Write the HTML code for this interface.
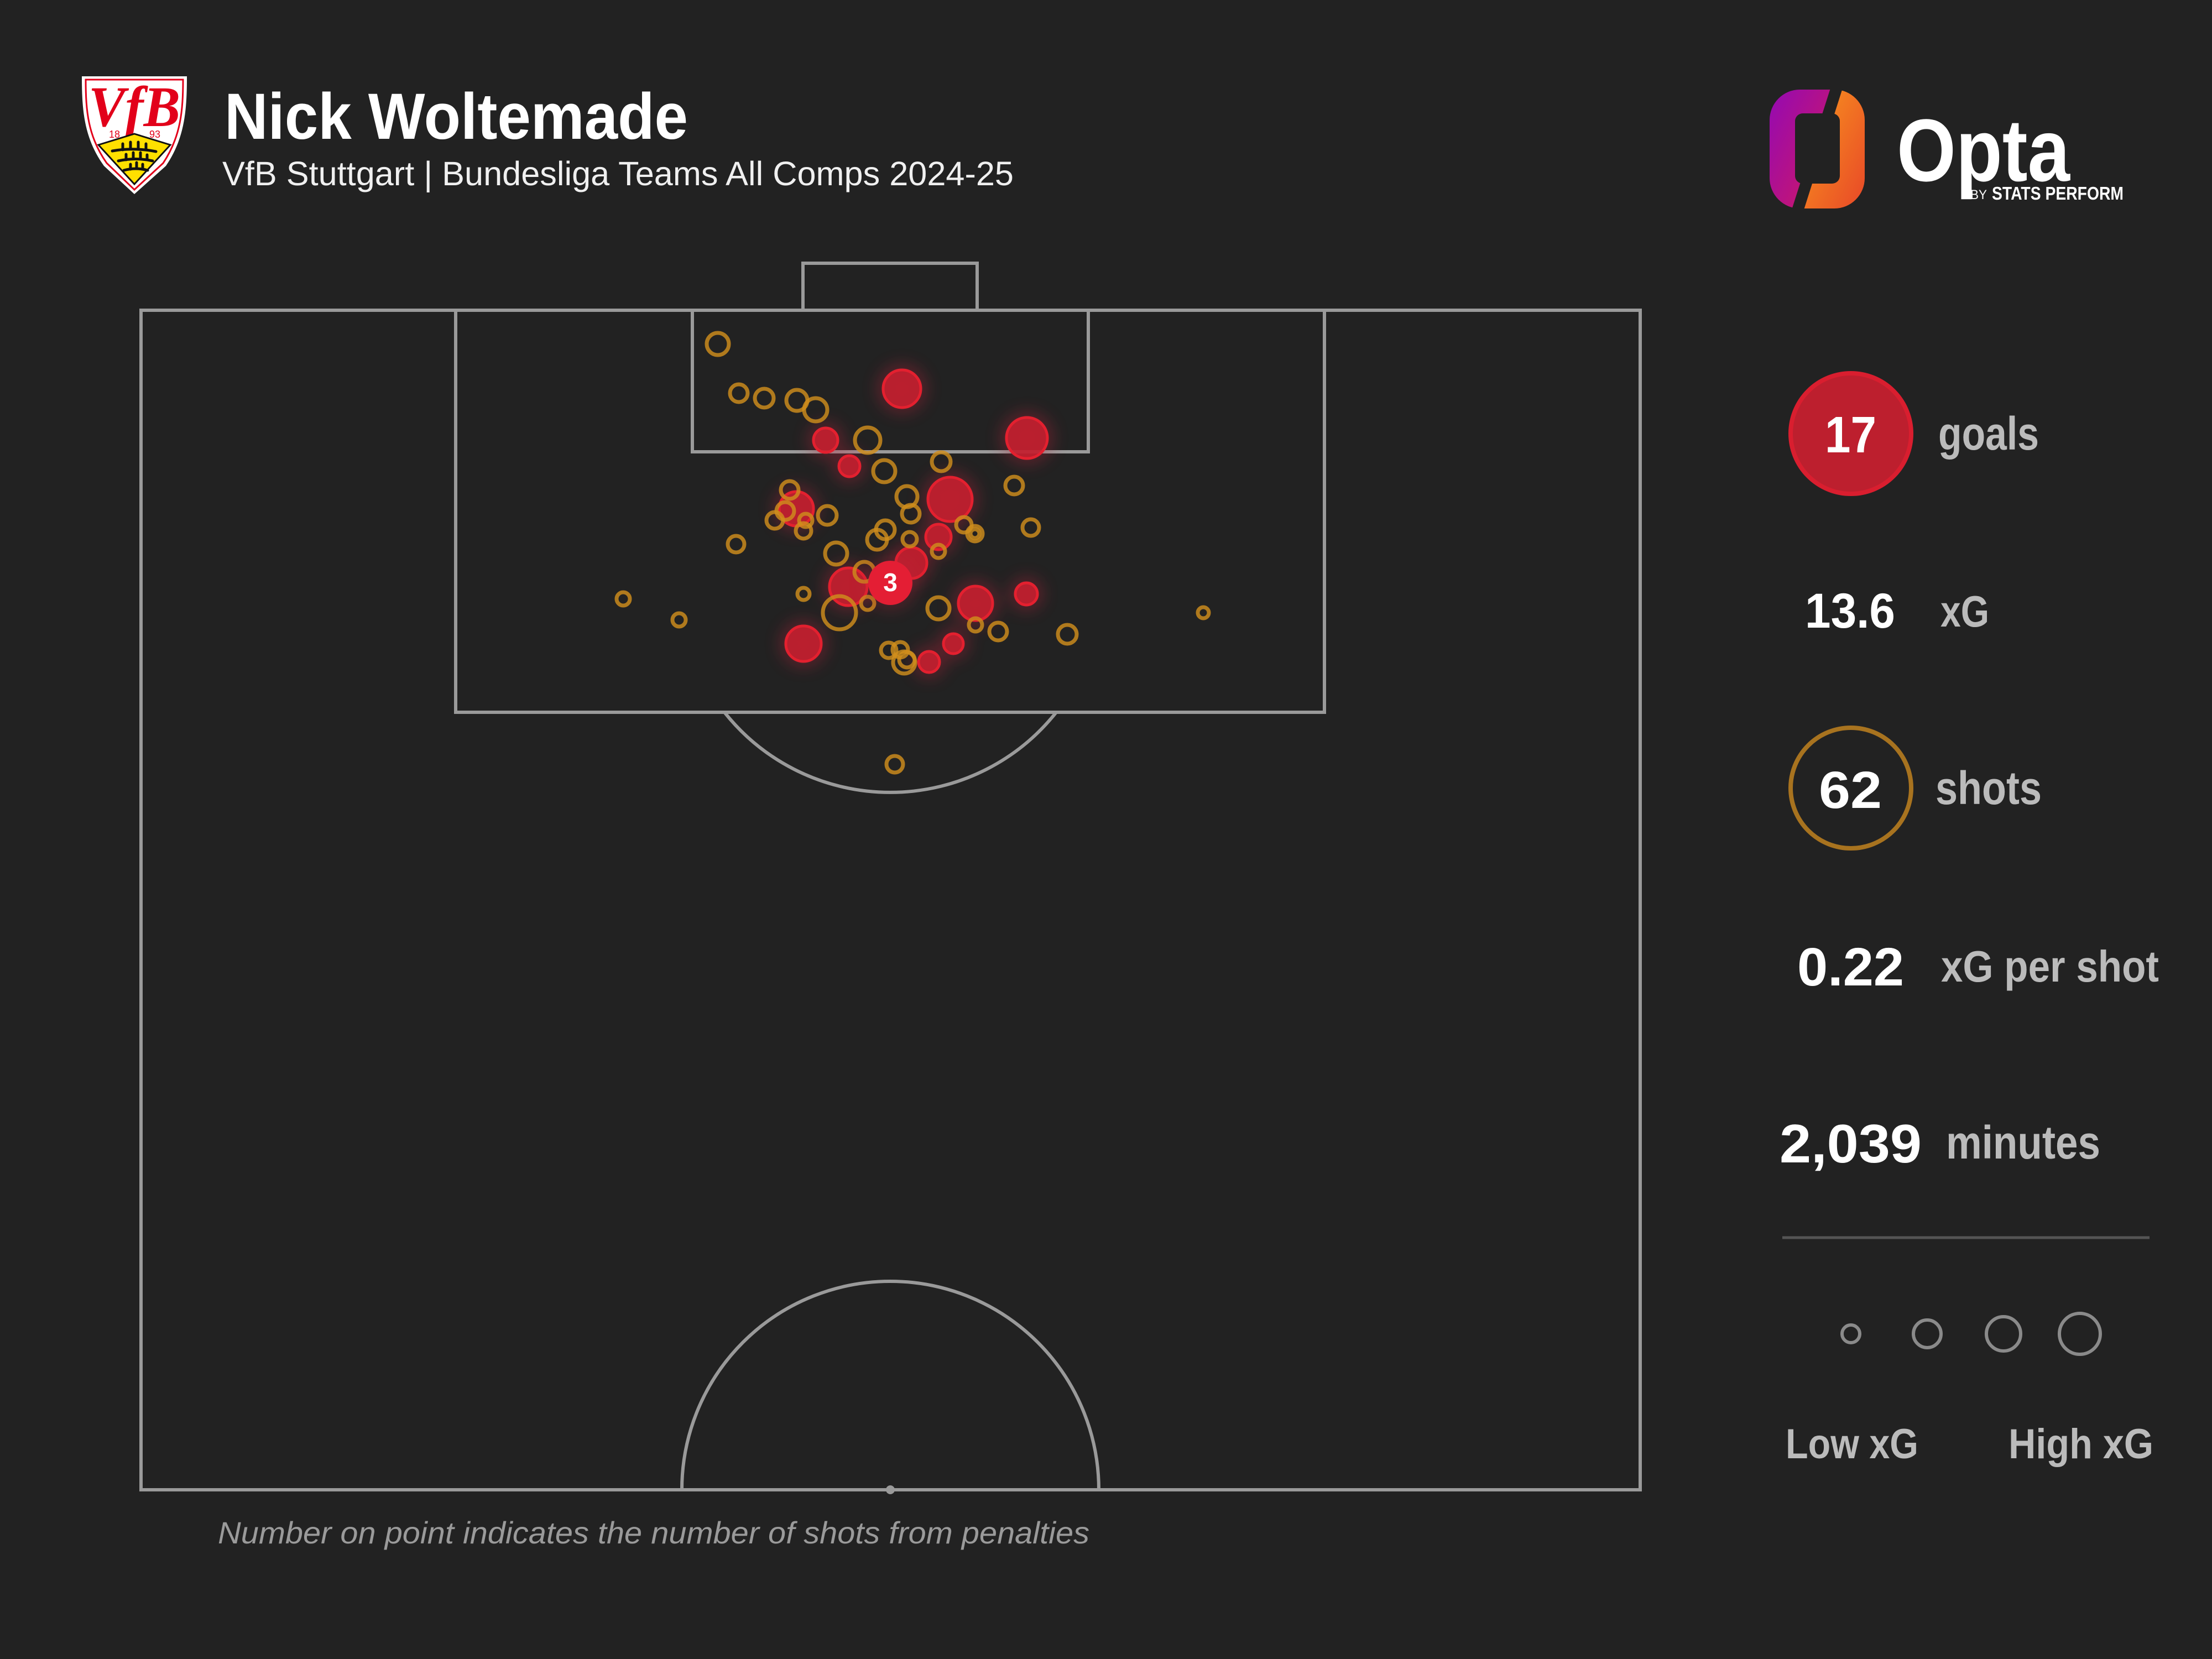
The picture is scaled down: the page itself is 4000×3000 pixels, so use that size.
<!DOCTYPE html>
<html>
<head>
<meta charset="utf-8">
<style>
html,body{margin:0;padding:0;background:#222222;}
svg{display:block;}
</style>
</head>
<body>
<svg width="4000" height="3000" viewBox="0 0 4000 3000" xmlns="http://www.w3.org/2000/svg">
<defs>
  <filter id="glow" x="-100%" y="-100%" width="300%" height="300%">
    <feGaussianBlur stdDeviation="14"/>
  </filter>
  <linearGradient id="gl" x1="0" y1="0.2" x2="1" y2="0.8">
    <stop offset="0" stop-color="#9a0bab"/>
    <stop offset="1" stop-color="#e01c50"/>
  </linearGradient>
  <linearGradient id="gr" x1="0" y1="0.2" x2="1" y2="0.8">
    <stop offset="0" stop-color="#fca81b"/>
    <stop offset="1" stop-color="#ea5027"/>
  </linearGradient>
  <clipPath id="cl"><polygon points="3100,100 3329,100 3227,420 3100,420"/></clipPath>
  <clipPath id="cr"><polygon points="3351,100 3460,100 3460,420 3249,420"/></clipPath>
</defs>
<rect x="0" y="0" width="4000" height="3000" fill="#222222"/>

<!-- Crest -->
<g>
  <path d="M148,138 H338 C338,200 334,250 300,300 L243,351 L188,300 C152,250 148,200 148,138 Z" fill="#ffffff"/>
  <path d="M155,144 H331 C331,200 327,247 295,295 L243,343 L193,295 C159,247 155,200 155,144 Z" fill="none" stroke="#e2001a" stroke-width="3"/>
  <text x="160" y="228" font-family="Liberation Serif, serif" font-weight="bold" font-style="italic" font-size="104" fill="#e2001a" textLength="166" lengthAdjust="spacingAndGlyphs">VfB</text>
  <text x="197" y="249" font-family="Liberation Sans, sans-serif" font-size="18" fill="#e2001a">18</text>
  <text x="270" y="249" font-family="Liberation Sans, sans-serif" font-size="18" fill="#e2001a">93</text>
  <polygon points="243,242 308,262 243,333 178,262" fill="#ffe000" stroke="#111" stroke-width="3"/>
  <g stroke="#111" stroke-width="5" fill="none" stroke-linecap="round">
    <path d="M203,273 Q240,266 282,274"/>
    <path d="M214,291 Q245,284 276,291"/>
    <path d="M224,308 Q246,302 267,308"/>
    <path d="M222,271 V260 M236,269 V257 M250,269 V257 M264,270 V260"/>
    <path d="M228,289 V279 M241,287 V276 M254,287 V276 M266,289 V280"/>
    <path d="M236,306 V297 M247,304 V294 M258,305 V297"/>
  </g>
</g>

<!-- Title -->
<text x="406" y="251" font-family="Liberation Sans, sans-serif" font-weight="bold" font-size="118" fill="#ffffff" textLength="838" lengthAdjust="spacingAndGlyphs">Nick Woltemade</text>
<text x="402" y="335" font-family="Liberation Sans, sans-serif" font-size="61" fill="#f0f0f0" textLength="1431" lengthAdjust="spacingAndGlyphs">VfB Stuttgart | Bundesliga Teams All Comps 2024-25</text>

<!-- Opta logo -->
<g>
  <path fill-rule="evenodd" clip-path="url(#cl)" fill="url(#gl)" d="M3255,162 H3317 A55,55 0 0 1 3372,217 V322 A55,55 0 0 1 3317,377 H3255 A55,55 0 0 1 3200,322 V217 A55,55 0 0 1 3255,162 Z M3260,205 H3313 A14,14 0 0 1 3327,219 V318 A14,14 0 0 1 3313,332 H3260 A14,14 0 0 1 3246,318 V219 A14,14 0 0 1 3260,205 Z"/>
  <path fill-rule="evenodd" clip-path="url(#cr)" fill="url(#gr)" d="M3255,162 H3317 A55,55 0 0 1 3372,217 V322 A55,55 0 0 1 3317,377 H3255 A55,55 0 0 1 3200,322 V217 A55,55 0 0 1 3255,162 Z M3260,205 H3313 A14,14 0 0 1 3327,219 V318 A14,14 0 0 1 3313,332 H3260 A14,14 0 0 1 3246,318 V219 A14,14 0 0 1 3260,205 Z"/>
  <text x="3430" y="327" font-family="Liberation Sans, sans-serif" font-weight="bold" font-size="160" fill="#ffffff" textLength="313" lengthAdjust="spacingAndGlyphs">Opta</text>
  <text x="3563" y="360" font-family="Liberation Sans, sans-serif" font-size="24" fill="#ffffff" textLength="30" lengthAdjust="spacingAndGlyphs">BY</text>
  <text x="3602" y="361" font-family="Liberation Sans, sans-serif" font-weight="bold" font-size="33" fill="#ffffff" textLength="238" lengthAdjust="spacingAndGlyphs">STATS PERFORM</text>
</g>

<!-- Pitch -->
<g fill="none" stroke="#9a9a9a" stroke-width="6">
  <rect x="255" y="561" width="2711" height="2133"/>
  <path d="M1452,561 V476 H1767 V561"/>
  <rect x="824" y="561" width="1571" height="727"/>
  <rect x="1252" y="561" width="716" height="256"/>
  <path d="M1310,1288 A383,383 0 0 0 1910,1288"/>
  <path d="M1233,2694 A377,377 0 0 1 1987,2694"/>
</g>
<circle cx="1610" cy="2694" r="8" fill="#9a9a9a"/>

<!-- Goal glows -->
<g filter="url(#glow)" fill="#c0203a" opacity="0.35">
  <circle cx="1631" cy="703" r="45"/>
  <circle cx="1857" cy="792" r="48"/>
  <circle cx="1493" cy="796" r="33"/>
  <circle cx="1536" cy="843" r="30"/>
  <circle cx="1718" cy="903" r="51"/>
  <circle cx="1440" cy="920" r="42"/>
  <circle cx="1697" cy="971" r="34"/>
  <circle cx="1648" cy="1018" r="39"/>
  <circle cx="1534" cy="1061" r="45"/>
  <circle cx="1764" cy="1091" r="42"/>
  <circle cx="1856" cy="1074" r="31"/>
  <circle cx="1453" cy="1164" r="43"/>
  <circle cx="1724" cy="1164" r="29"/>
  <circle cx="1680" cy="1197" r="30"/>
</g>

<!-- Goals -->
<g fill="#c41f2f" fill-opacity="0.9" stroke="#e3202f" stroke-width="5">
  <circle cx="1631" cy="703" r="34"/>
  <circle cx="1857" cy="792" r="37"/>
  <circle cx="1493" cy="796" r="22"/>
  <circle cx="1536" cy="843" r="19"/>
  <circle cx="1718" cy="903" r="40"/>
  <circle cx="1440" cy="920" r="31"/>
  <circle cx="1697" cy="971" r="23"/>
  <circle cx="1648" cy="1018" r="28"/>
  <circle cx="1534" cy="1061" r="34"/>
  <circle cx="1764" cy="1091" r="31"/>
  <circle cx="1856" cy="1074" r="20"/>
  <circle cx="1453" cy="1164" r="32"/>
  <circle cx="1724" cy="1164" r="18"/>
  <circle cx="1680" cy="1197" r="19"/>
</g>

<!-- Non-goal shots -->
<g fill="none" stroke="#d08e1c" stroke-opacity="0.82" stroke-width="7">
  <circle cx="1298" cy="622" r="20"/>
  <circle cx="1336" cy="711" r="16"/>
  <circle cx="1382" cy="720" r="17"/>
  <circle cx="1441" cy="724" r="19"/>
  <circle cx="1475" cy="741" r="21"/>
  <circle cx="1569" cy="796" r="23"/>
  <circle cx="1599" cy="852" r="20"/>
  <circle cx="1702" cy="835" r="17"/>
  <circle cx="1834" cy="878" r="16"/>
  <circle cx="1428" cy="886" r="16"/>
  <circle cx="1640" cy="898" r="19"/>
  <circle cx="1647" cy="929" r="16"/>
  <circle cx="1496" cy="932" r="17"/>
  <circle cx="1401" cy="941" r="15"/>
  <circle cx="1420" cy="924" r="16"/>
  <circle cx="1457" cy="941" r="12"/>
  <circle cx="1453" cy="960" r="14"/>
  <circle cx="1743" cy="949" r="14"/>
  <circle cx="1763" cy="965" r="14"/>
  <circle cx="1763" cy="965" r="8"/>
  <circle cx="1864" cy="954" r="15"/>
  <circle cx="1331" cy="984" r="15"/>
  <circle cx="1601" cy="958" r="17"/>
  <circle cx="1586" cy="976" r="18"/>
  <circle cx="1645" cy="975" r="13"/>
  <circle cx="1697" cy="997" r="12"/>
  <circle cx="1512" cy="1001" r="20"/>
  <circle cx="1563" cy="1034" r="18"/>
  <circle cx="1453" cy="1074" r="11"/>
  <circle cx="1228" cy="1121" r="12"/>
  <circle cx="1518" cy="1108" r="30"/>
  <circle cx="1569" cy="1091" r="12"/>
  <circle cx="1697" cy="1100" r="20"/>
  <circle cx="1764" cy="1130" r="12"/>
  <circle cx="1805" cy="1142" r="16"/>
  <circle cx="1930" cy="1147" r="17"/>
  <circle cx="1607" cy="1176" r="14"/>
  <circle cx="1628" cy="1175" r="14"/>
  <circle cx="1635" cy="1198" r="20"/>
  <circle cx="1640" cy="1193" r="14"/>
  <circle cx="1127" cy="1083" r="12"/>
  <circle cx="2176" cy="1108" r="10"/>
  <circle cx="1618" cy="1382" r="15"/>
</g>

<!-- Penalty -->
<circle cx="1610" cy="1054" r="48" fill="#c0203a" opacity="0.3" filter="url(#glow)"/>
<circle cx="1610" cy="1054" r="40" fill="#e41e34"/>
<text x="1610" y="1069" text-anchor="middle" font-family="Liberation Sans, sans-serif" font-weight="bold" font-size="46" fill="#ffffff">3</text>

<!-- Footnote -->
<text x="394" y="2791" font-family="Liberation Sans, sans-serif" font-style="italic" font-size="56" fill="#9a9a9a" textLength="1576" lengthAdjust="spacingAndGlyphs">Number on point indicates the number of shots from penalties</text>

<!-- Right panel -->
<circle cx="3347" cy="784" r="109" fill="#bd1f2e" stroke="#d91e2f" stroke-width="8"/>
<text x="3300" y="818" font-family="Liberation Sans, sans-serif" font-weight="bold" font-size="93" fill="#ffffff" textLength="93" lengthAdjust="spacingAndGlyphs">17</text>
<text x="3505" y="813" font-family="Liberation Sans, sans-serif" font-weight="bold" font-size="84" fill="#bbbbbb" textLength="182" lengthAdjust="spacingAndGlyphs">goals</text>

<text x="3264" y="1135" font-family="Liberation Sans, sans-serif" font-weight="bold" font-size="89" fill="#ffffff" textLength="163" lengthAdjust="spacingAndGlyphs">13.6</text>
<text x="3509" y="1133" font-family="Liberation Sans, sans-serif" font-weight="bold" font-size="80" fill="#bbbbbb" textLength="88" lengthAdjust="spacingAndGlyphs">xG</text>

<circle cx="3347" cy="1425" r="109" fill="none" stroke="#a8731f" stroke-width="8"/>
<text x="3289" y="1461" font-family="Liberation Sans, sans-serif" font-weight="bold" font-size="95" fill="#ffffff" textLength="114" lengthAdjust="spacingAndGlyphs">62</text>
<text x="3500" y="1454" font-family="Liberation Sans, sans-serif" font-weight="bold" font-size="84" fill="#bbbbbb" textLength="192" lengthAdjust="spacingAndGlyphs">shots</text>

<text x="3250" y="1782" font-family="Liberation Sans, sans-serif" font-weight="bold" font-size="97" fill="#ffffff" textLength="193" lengthAdjust="spacingAndGlyphs">0.22</text>
<text x="3510" y="1775" font-family="Liberation Sans, sans-serif" font-weight="bold" font-size="80" fill="#bbbbbb" textLength="394" lengthAdjust="spacingAndGlyphs">xG per shot</text>

<text x="3218" y="2102" font-family="Liberation Sans, sans-serif" font-weight="bold" font-size="98" fill="#ffffff" textLength="257" lengthAdjust="spacingAndGlyphs">2,039</text>
<text x="3519" y="2095" font-family="Liberation Sans, sans-serif" font-weight="bold" font-size="84" fill="#bbbbbb" textLength="279" lengthAdjust="spacingAndGlyphs">minutes</text>

<line x1="3223" y1="2238" x2="3887" y2="2238" stroke="#555555" stroke-width="5"/>

<g fill="none" stroke="#8a8a8a" stroke-width="6">
  <circle cx="3347" cy="2412" r="16"/>
  <circle cx="3485" cy="2412" r="25"/>
  <circle cx="3623" cy="2412" r="31"/>
  <circle cx="3761" cy="2412" r="37"/>
</g>
<text x="3229" y="2637" font-family="Liberation Sans, sans-serif" font-weight="bold" font-size="76" fill="#bbbbbb" textLength="240" lengthAdjust="spacingAndGlyphs">Low xG</text>
<text x="3632" y="2637" font-family="Liberation Sans, sans-serif" font-weight="bold" font-size="76" fill="#bbbbbb" textLength="262" lengthAdjust="spacingAndGlyphs">High xG</text>
</svg>
</body>
</html>
